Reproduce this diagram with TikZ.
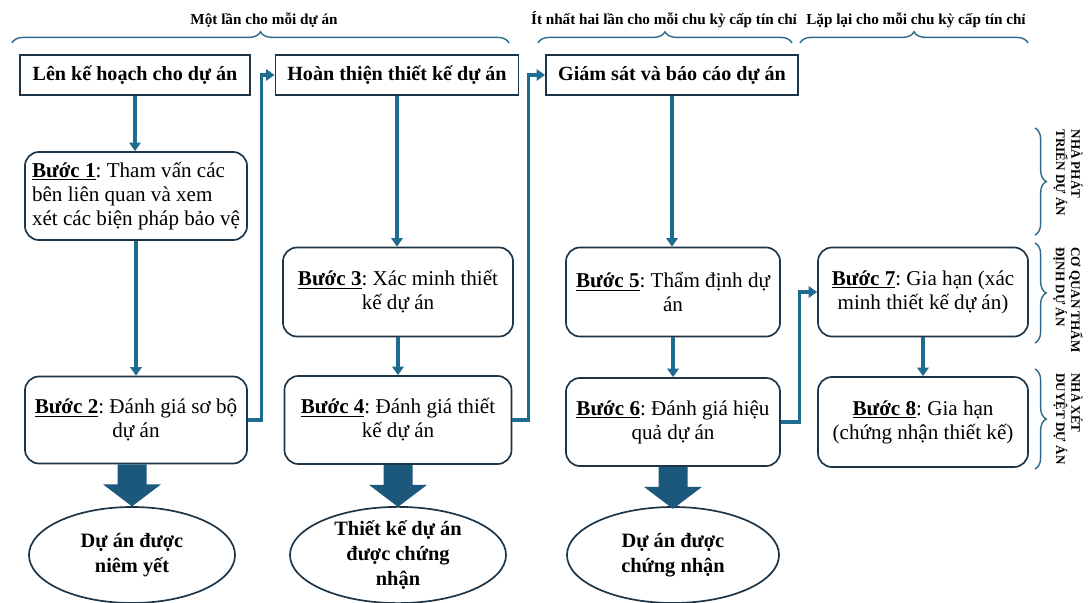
\documentclass[tikz,border=0pt]{standalone}
\usepackage{fontspec}
\setmainfont{Liberation Serif}
\usepackage{tikz}
\usetikzlibrary{shapes,arrows,positioning,calc,decorations.pathreplacing,arrows.meta}
\usepackage{xcolor}
\definecolor{boxdark}{RGB}{28,52,70}
\definecolor{flowblue}{RGB}{31,108,145}
\definecolor{blockblue}{RGB}{28,88,124}
\definecolor{bracecol}{RGB}{45,105,140}
\frenchspacing

\newcommand{\buoc}[1]{\underline{\textbf{Bước #1}}}

\begin{document}
\begin{tikzpicture}[x=0.025cm, y=-0.025cm,
  headbox/.style={draw=boxdark, line width=1.3pt, minimum height=1cm, inner sep=1pt, font=\fontsize{14.3}{17}\selectfont\bfseries},
  stepbox/.style={draw=boxdark, line width=1.2pt, rounded corners=0.35cm, align=center, inner sep=1pt, font=\fontsize{15}{17}\selectfont},
  goal/.style={ellipse, draw=boxdark, line width=1.2pt, inner sep=0pt, align=center, font=\fontsize{14.5}{17.5}\selectfont\bfseries},
  flow/.style={flowblue, line width=2.2pt, -{Triangle[width=8pt,length=6pt]}},
  bracket/.style={bracecol, line width=1pt, decorate, decoration={brace, amplitude=8pt}},
  toplbl/.style={font=\fontsize{10.8}{13}\selectfont\bfseries},
  sidelbl/.style={rotate=-90, align=left, inner sep=0pt, font=\fontsize{9.3}{10.8}\selectfont\bfseries}]
\useasboundingbox (0,0) rectangle (1089,603);

% Phase brackets on top
\draw[bracket] (12,43) -- (509,43);
\draw[bracket] (538,43) -- (792,43);
\draw[bracket] (800,43) -- (1028,43);
\node[toplbl] (once) at (264,20) {Một lần cho mỗi dự án};
\node[toplbl] (twice) at (664,20) {Ít nhất hai lần cho mỗi chu kỳ cấp tín chỉ};
\node[toplbl] (repeat) at (916,20) {Lặp lại cho mỗi chu kỳ cấp tín chỉ};

% Phase headers
\node[headbox, minimum width=5.75cm] (h1) at (135,75) {Lên kế hoạch cho dự án};
\node[headbox, minimum width=6.075cm] (h2) at (397,75) {Hoàn thiện thiết kế dự án};
\node[headbox, minimum width=6.3cm] (h3) at (672,75) {Giám sát và báo cáo dự án};

% Steps
\node[stepbox, align=left, minimum width=5.55cm, minimum height=2.2cm] (b1) at (136,196)
  {\buoc{1}: Tham vấn các\\bên liên quan và xem\\xét các biện pháp bảo vệ};
\node[stepbox, minimum width=5.55cm, minimum height=2.175cm] (b2) at (136,420)
  {\buoc{2}: Đánh giá sơ bộ\\dự án};
\node[stepbox, minimum width=5.75cm, minimum height=2.225cm] (b3) at (398,292)
  {\buoc{3}: Xác minh thiết\\kế dự án};
\node[stepbox, minimum width=5.675cm, minimum height=2.2cm] (b4) at (398,420)
  {\buoc{4}: Đánh giá thiết\\kế dự án};
\node[stepbox, minimum width=5.35cm, minimum height=2.225cm] (b5) at (673,292)
  {\buoc{5}: Thẩm định dự\\án};
\node[stepbox, minimum width=5.35cm, minimum height=2.2cm] (b6) at (673,422)
  {\buoc{6}: Đánh giá hiệu\\quả dự án};
\node[stepbox, minimum width=5.25cm, minimum height=2.225cm] (b7) at (923,292)
  {\buoc{7}: Gia hạn (xác\\minh thiết kế dự án)};
\node[stepbox, minimum width=5.25cm, minimum height=2.25cm] (b8) at (923,422)
  {\buoc{8}: Gia hạn\\(chứng nhận thiết kế)};

% Outcomes
\node[goal, minimum width=5.15cm, minimum height=2.4cm] (e1) at (132,555) {Dự án được\\niêm yết};
\node[goal, minimum width=5.4cm, minimum height=2.4cm] (e2) at (398,555) {Thiết kế dự án\\được chứng\\nhận};
\node[goal, minimum width=5.3cm, minimum height=2.4cm] (e3) at (673,555) {Dự án được\\chứng nhận};

% Flow
\draw[flow] (h1.south) -- (h1.south |- b1.north);
\draw[flow] (b1.south) -- (b1.south |- b2.north);
\draw[flow] (b2.east) -- ++(14,0) |- (h2.west);
\draw[flow] (h2.south) -- (h2.south |- b3.north);
\draw[flow] (b3.south) -- (b3.south |- b4.north);
\draw[flow] (b4.east) -- ++(16,0) |- (h3.west);
\draw[flow] (h3.south) -- (h3.south |- b5.north);
\draw[flow] (b5.south) -- (b5.south |- b6.north);
\draw[flow] (b6.east) -- ++(19,0) |- (b7.west);
\draw[flow] (b7.south) -- (b7.south |- b8.north);

% Block arrows to outcomes
\foreach \a/\b in {b2/e1, b4/e2, b6/e3} {
  \fill[blockblue] ($(\b.north |- \a.south)+(-14.5,0)$) -- ++(29,0) -- ++(0,20) -- ++(14.5,0)
    -- ($(\b.north |- \a.south)+(0,42)$) -- ++(-29,-22) -- ++(14.5,0) -- cycle;
}

% Roles on the right
\draw[bracket] (1035,128) -- (1035,235);
\draw[bracket] (1035,243) -- (1035,343);
\draw[bracket] (1035,369) -- (1035,469);
\node[sidelbl] (dev) at (1068,173) {NHÀ PHÁT\\TRIỂN DỰ ÁN};
\node[sidelbl] (val) at (1068,300) {CƠ QUAN THẨM\\ĐỊNH DỰ ÁN};
\node[sidelbl] (ver) at (1068,419) {NHÀ XÉT\\DUYỆT DỰ ÁN};
\end{tikzpicture}
\end{document}
